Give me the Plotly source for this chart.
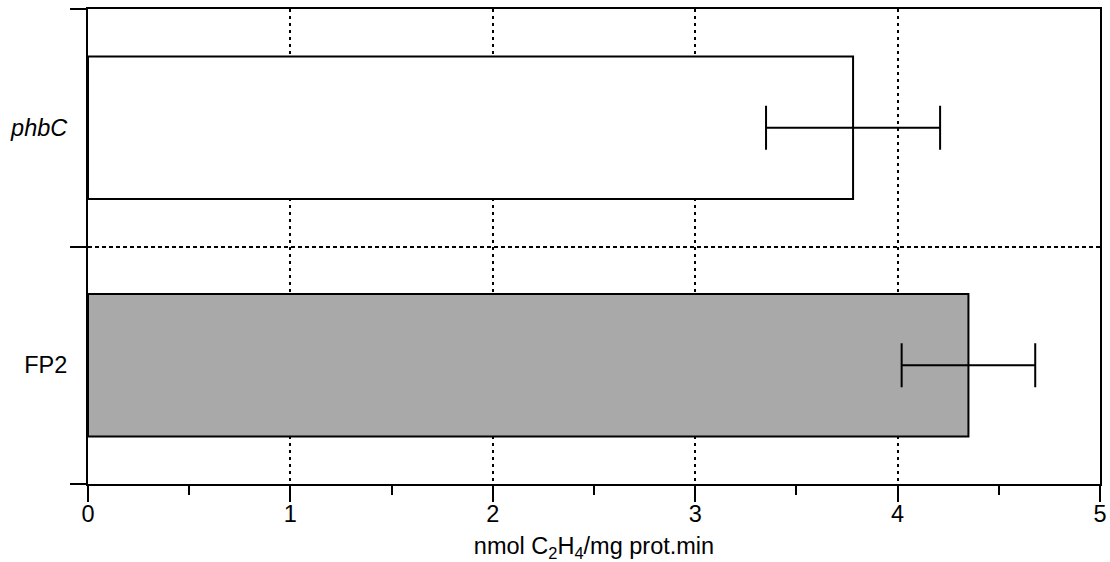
import plotly.graph_objects as go

categories = ["phbC", "FP2"]
tick_labels = ["<i>phbC</i>", "FP2"]
values = [3.78, 4.35]
errors = [0.43, 0.33]
bar_colors = ["#ffffff", "#a9a9a9"]
x_ticks = [0, 1, 2, 3, 4, 5]
x_title = "nmol C<sub>2</sub>H<sub>4</sub>/mg prot.min"

FONT = "Liberation Sans, Arial, sans-serif"

fig = go.Figure()
fig.add_trace(go.Bar(
    y=categories,
    x=values,
    orientation="h",
    marker=dict(color=bar_colors, line=dict(color="black", width=2)),
    error_x=dict(type="data", array=errors, visible=True,
                 color="black", thickness=2, width=22),
    showlegend=False,
))

fig.update_layout(
    width=1110, height=562,
    margin=dict(l=88, r=10, t=9, b=78, autoexpand=False),
    paper_bgcolor="white", plot_bgcolor="white",
    bargap=0.4,
    font=dict(family=FONT, size=23.5, color="black"),
)

fig.update_xaxes(
    range=[0, 5],
    tickvals=x_ticks,
    ticktext=[str(t) for t in x_ticks],
    ticks="outside", ticklen=16, tickwidth=2, tickcolor="black",
    ticklabelstandoff=-8,
    minor=dict(dtick=0.5, ticks="outside", ticklen=9, tickwidth=2,
               tickcolor="black", showgrid=False),
    showline=True, linecolor="black", linewidth=2, mirror=True,
    showgrid=True, gridcolor="black", gridwidth=2, griddash="3px,4px",
    zeroline=False,
    automargin=False,
    title=dict(text=x_title, standoff=13, font=dict(size=23.5)),
    tickfont=dict(size=23.5),
)

fig.update_yaxes(
    type="category",
    autorange="reversed",
    tickvals=categories,
    ticktext=tick_labels,
    tickson="boundaries",
    ticks="outside", ticklen=16, tickwidth=2, tickcolor="black",
    ticklabelstandoff=14,
    showline=True, linecolor="black", linewidth=2, mirror=True,
    showgrid=True, gridcolor="black", gridwidth=2, griddash="4px,3px",
    zeroline=False,
    automargin=False,
    tickfont=dict(size=23.5),
)

fig.write_html("out.html")
